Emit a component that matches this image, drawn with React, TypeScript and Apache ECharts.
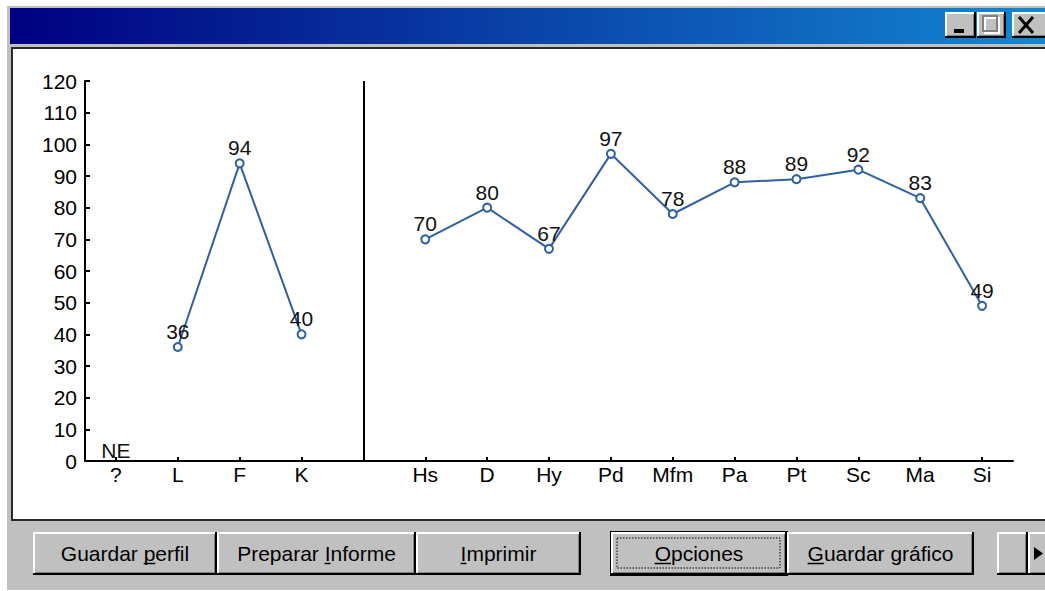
import React, { useEffect, useRef } from "react";
import * as echarts from "echarts";

// ---- data ----
const categories = ["?", "L", "F", "K", " ", "Hs", "D", "Hy", "Pd", "Mfm", "Pa", "Pt", "Sc", "Ma", "Si"];
const notEvaluatedScales = ["?"];
const notEvaluatedLabel = "NE";
const validityScales = ["L", "F", "K"];
const validityValues = [36, 94, 40];
const clinicalScales = ["Hs", "D", "Hy", "Pd", "Mfm", "Pa", "Pt", "Sc", "Ma", "Si"];
const clinicalValues = [70, 80, 67, 97, 78, 88, 89, 92, 83, 49];
const separatorIndex = 4;
const yMin = 0;
const yMax = 120;
const yStep = 10;
const buttonLabels = ["Guardar perfil", "Preparar Informe", "Imprimir", "Opciones", "Guardar gráfico"];
const buttonMnemonics = [8, 9, 0, 0, 0];

const FONT = '"Liberation Sans", Arial, sans-serif';
const FS = 21;
const LINE_COLOR = "#2f60a4";
const FACE = "#c0c0c0";

function measure(t: string): number {
  const c = document.createElement("canvas").getContext("2d");
  if (!c) return t.length * FS * 0.55;
  c.font = `${FS}px "Liberation Sans", Arial, sans-serif`;
  return c.measureText(t).width;
}

function toSeries(names: string[], values: number[]) {
  return categories.map((c) => {
    const i = names.indexOf(c);
    return i >= 0 ? values[i] : null;
  });
}

function ln(x1: number, y1: number, x2: number, y2: number, color: string, w: number) {
  return {
    type: "line",
    silent: true,
    shape: { x1, y1, x2, y2 },
    style: { stroke: color, lineWidth: w },
  };
}

function bevel(x: number, y: number, w: number, h: number) {
  return [
    { type: "rect", silent: true, shape: { x, y, width: w, height: h }, style: { fill: FACE } },
    ln(x, y + 1, x + w - 2, y + 1, "#ffffff", 2),
    ln(x + 1, y, x + 1, y + h - 2, "#ffffff", 2),
    ln(x + 2, y + h - 2.5, x + w - 2, y + h - 2.5, "#808080", 1),
    ln(x + w - 2.5, y + 2, x + w - 2.5, y + h - 2, "#808080", 1),
    ln(x, y + h - 1, x + w, y + h - 1, "#000000", 2),
    ln(x + w - 1, y, x + w - 1, y + h, "#000000", 2),
  ];
}

function button(x: number, y: number, w: number, h: number, label: string, mn: number, isDefault: boolean) {
  const els: any[] = [];
  if (isDefault) {
    els.push({ type: "rect", silent: true, shape: { x: x - 1, y: y - 1, width: w + 2, height: h + 2 }, style: { fill: "#000" } });
  }
  els.push(...bevel(x, y, w, h));
  const cx = x + w / 2;
  const cy = y + h / 2;
  els.push({
    type: "text",
    silent: true,
    style: { text: label, x: cx, y: cy, align: "center", verticalAlign: "middle", fill: "#000", font: `${FS}px ${FONT}` },
  });
  const total = measure(label);
  const start = cx - total / 2 + measure(label.slice(0, mn));
  const cw = measure(label.charAt(mn));
  els.push(ln(start, cy + 10, start + cw, cy + 10, "#000", 1.5));
  if (isDefault) {
    els.push({
      type: "rect",
      silent: true,
      shape: { x: x + 6, y: y + 6, width: w - 13, height: h - 13 },
      style: { fill: "none", stroke: "#000", lineWidth: 1, lineDash: [1.5, 1.5] },
    });
  }
  return els;
}

function chrome() {
  const els: any[] = [];
  // window body
  els.push({ type: "rect", silent: true, shape: { x: 7, y: 6, width: 1045, height: 584 }, style: { fill: FACE } });
  // title bar
  els.push({
    type: "rect",
    silent: true,
    shape: { x: 10, y: 8, width: 1040, height: 36 },
    style: {
      fill: new echarts.graphic.LinearGradient(0, 0, 1, 0, [
        { offset: 0, color: "#000080" },
        { offset: 1, color: "#1487d2" },
      ]),
    },
  });
  // title buttons
  els.push(...bevel(945, 12, 31, 26));
  els.push({ type: "rect", silent: true, shape: { x: 954, y: 29, width: 10, height: 4 }, style: { fill: "#000" } });
  els.push(...bevel(977, 12, 29, 26));
  els.push({ type: "rect", silent: true, shape: { x: 985, y: 18, width: 14, height: 15 }, style: { fill: "none", stroke: "#ffffff", lineWidth: 2 } });
  els.push({ type: "rect", silent: true, shape: { x: 983, y: 16, width: 14, height: 15 }, style: { fill: "none", stroke: "#808080", lineWidth: 2 } });
  els.push(...bevel(1012, 12, 36, 26));
  els.push(ln(1019, 17, 1033, 33, "#000", 3));
  els.push(ln(1033, 17, 1019, 33, "#000", 3));
  // white chart panel
  els.push({
    type: "rect",
    silent: true,
    shape: { x: 12, y: 48, width: 1045, height: 472 },
    style: { fill: "#ffffff", stroke: "#2a2a2a", lineWidth: 2 },
  });
  // buttons
  const bx = [[33, 184], [217, 199], [416, 165], [611, 176], [787, 187]];
  buttonLabels.forEach((lab, i) => {
    els.push(...button(bx[i][0], 532, bx[i][1], 43, lab, buttonMnemonics[i], i === 3));
  });
  els.push(...bevel(997, 532, 31, 43));
  els.push(...bevel(1028, 532, 30, 43));
  els.push({ type: "polygon", silent: true, shape: { points: [[1034, 547], [1043, 553.5], [1034, 560]] }, style: { fill: "#000" } });
  return els.map((e) => ({ ...e, z: -10 }));
}

export default function App() {
  const ref = useRef<HTMLDivElement>(null);
  useEffect(() => {
    if (!ref.current) return;
    const chart = echarts.init(ref.current, null, { renderer: "svg" });
    const label = {
      show: true,
      position: "top",
      distance: 0,
      color: "#111",
      fontSize: FS,
      fontFamily: FONT,
    };
    const lineSeries = (name: string, data: (number | null)[], extra: any = {}) => ({
      name,
      type: "line",
      data,
      connectNulls: false,
      symbol: "emptyCircle",
      symbolSize: 8,
      itemStyle: { color: LINE_COLOR, borderWidth: 2 },
      lineStyle: { color: LINE_COLOR, width: 2 },
      label,
      z: 3,
      ...extra,
    });
    chart.setOption({
      animation: false,
      backgroundColor: "#ffffff",
      textStyle: { fontFamily: FONT },
      graphic: { elements: chrome() },
      grid: { left: 85, right: 32, top: 81, bottom: 130, containLabel: false },
      xAxis: {
        type: "category",
        data: categories,
        boundaryGap: true,
        axisLine: { lineStyle: { color: "#000", width: 2 } },
        axisTick: { show: true, inside: true, length: 4, alignWithLabel: true, lineStyle: { color: "#000", width: 2 } },
        axisLabel: { color: "#000", fontSize: FS, fontFamily: FONT, margin: 3, interval: 0 },
        splitLine: { show: false },
      },
      yAxis: {
        type: "value",
        min: yMin,
        max: yMax,
        interval: yStep,
        axisLine: { show: true, lineStyle: { color: "#000", width: 2 } },
        axisTick: { show: true, inside: true, length: 5, lineStyle: { color: "#000", width: 2 } },
        axisLabel: { color: "#000", fontSize: FS, fontFamily: FONT, margin: 8 },
        splitLine: { show: false },
      },
      series: [
        {
          name: "NE",
          type: "line",
          data: toSeries(notEvaluatedScales, notEvaluatedScales.map(() => 0)),
          symbol: "circle",
          symbolSize: 1,
          itemStyle: { color: "rgba(0,0,0,0)" },
          lineStyle: { width: 0 },
          label: { ...label, formatter: () => notEvaluatedLabel },
        },
        lineSeries("Validez", toSeries(validityScales, validityValues)),
        lineSeries("Clínicas", toSeries(clinicalScales, clinicalValues), {
          markLine: {
            silent: true,
            symbol: ["none", "none"],
            label: { show: false },
            lineStyle: { color: "#000", width: 2, type: "solid" },
            data: [[{ coord: [separatorIndex, yMin] }, { coord: [separatorIndex, yMax] }]],
          },
        }),
      ],
    });
    return () => chart.dispose();
  }, []);
  return (
    <div
      ref={ref}
      style={{ position: "fixed", left: 0, top: 0, width: 1045, height: 591, background: "#fff" }}
    />
  );
}
